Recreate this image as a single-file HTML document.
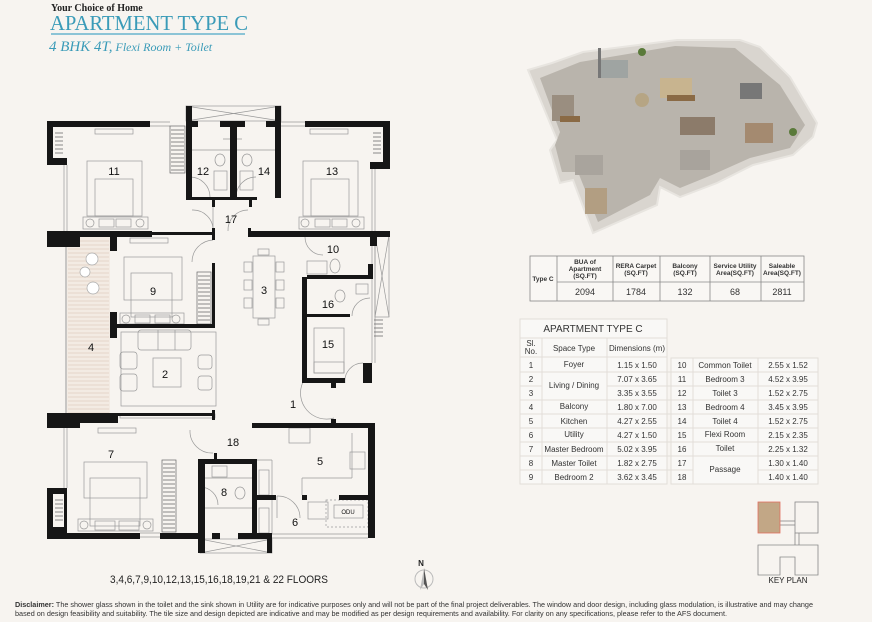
<!DOCTYPE html>
<html><head><meta charset="utf-8"><style>
html,body{margin:0;padding:0;background:#f7f4f0;}
svg{display:block;font-family:"Liberation Sans",sans-serif;}
</style></head><body>
<svg width="872" height="622" viewBox="0 0 872 622" xmlns="http://www.w3.org/2000/svg">
<rect width="872" height="622" fill="#f7f4f0"/>
<!-- Header -->
<text x="51" y="11" font-family="Liberation Serif,serif" font-weight="bold" font-size="10" fill="#222">Your Choice of Home</text>
<text x="50" y="30" font-family="Liberation Serif,serif" font-size="21" fill="#3a9bb8" textLength="198" lengthAdjust="spacingAndGlyphs">APARTMENT TYPE C</text>
<rect x="51" y="33" width="194" height="2" fill="#8cc4d6"/>
<text x="49" y="51" font-family="Liberation Serif,serif" font-style="italic" fill="#3a9bb8"><tspan font-size="15">4 BHK 4T,</tspan><tspan font-size="12"> Flexi Room + Toilet</tspan></text>

<!-- 3D render approximation -->
<polygon points="528,70 552,63 583,52 677,40 740,40 760,47 790,77 817,123 813,137 793,155 753,165 717,183 680,197 660,187 657,205 593,233 573,180 560,183 550,150 557,140" fill="#d9d5cf" stroke="#e8e5e0" stroke-width="2"/>
<polygon points="540,78 580,62 675,46 735,48 780,85 805,125 790,148 750,158 712,175 680,188 660,178 650,195 598,222 578,172 562,172 555,145 560,132" fill="#b9b4ac"/>
<rect x="552" y="95" width="22" height="26" fill="#9a8e80"/>
<rect x="560" y="116" width="20" height="6" fill="#8a6a45"/>
<rect x="600" y="60" width="28" height="18" fill="#9fa4a2"/>
<rect x="660" y="78" width="32" height="20" fill="#c8b48f"/>
<rect x="667" y="95" width="28" height="6" fill="#8a6a45"/>
<rect x="680" y="117" width="35" height="18" fill="#8c7b6a"/>
<rect x="740" y="83" width="22" height="16" fill="#777"/>
<rect x="745" y="123" width="28" height="20" fill="#a48a70"/>
<rect x="680" y="150" width="30" height="20" fill="#a8a39c"/>
<rect x="575" y="155" width="28" height="20" fill="#a9a49d"/>
<rect x="585" y="188" width="22" height="26" fill="#b29e82"/>
<circle cx="642" cy="100" r="7" fill="#b6a584"/>
<circle cx="642" cy="52" r="4" fill="#5a7a3a"/>
<circle cx="793" cy="132" r="4" fill="#5a7a3a"/>
<rect x="598" y="48" width="3" height="30" fill="#777"/>

<!-- Top table -->
<g font-size="6.5" font-weight="bold" fill="#333" text-anchor="middle">
<rect x="530" y="256" width="274" height="45" fill="#f9f7f4" stroke="#888" stroke-width="0.8"/>
<line x1="557" y1="256" x2="557" y2="301" stroke="#888" stroke-width="0.8"/>
<line x1="613" y1="256" x2="613" y2="301" stroke="#888" stroke-width="0.8"/>
<line x1="660" y1="256" x2="660" y2="301" stroke="#888" stroke-width="0.8"/>
<line x1="710" y1="256" x2="710" y2="301" stroke="#888" stroke-width="0.8"/>
<line x1="761" y1="256" x2="761" y2="301" stroke="#888" stroke-width="0.8"/>
<line x1="557" y1="282" x2="804" y2="282" stroke="#888" stroke-width="0.8"/>
<text x="543" y="281">Type C</text>
<text x="585" y="264">BUA of</text><text x="585" y="271">Apartment</text><text x="585" y="278">(SQ.FT)</text>
<text x="636" y="268">RERA Carpet</text><text x="636" y="275">(SQ.FT)</text>
<text x="685" y="268">Balcony</text><text x="685" y="275">(SQ.FT)</text>
<text x="735" y="268">Service Utility</text><text x="735" y="275">Area(SQ.FT)</text>
<text x="782" y="268">Saleable</text><text x="782" y="275">Area(SQ.FT)</text>
<g font-size="9" font-weight="normal">
<text x="585" y="295">2094</text><text x="636" y="295">1784</text><text x="685" y="295">132</text><text x="735" y="295">68</text><text x="782" y="295">2811</text>
</g></g>

<!-- Second table -->
<g stroke="#e2ded8" stroke-width="1" fill="#f9f8f6">
<rect x="520" y="319" width="147" height="165"/>
<rect x="671" y="358" width="147" height="126"/>
</g>
<g stroke="#e2ded8" stroke-width="1">
<line x1="520" y1="338" x2="667" y2="338"/>
<line x1="542" y1="338" x2="542" y2="484"/><line x1="607" y1="338" x2="607" y2="484"/>
<line x1="693" y1="358" x2="693" y2="484"/><line x1="758" y1="358" x2="758" y2="484"/>
<line x1="520" y1="357" x2="667" y2="357"/>
<line x1="520" y1="372" x2="818" y2="372"/>
<line x1="520" y1="386" x2="542" y2="386"/><line x1="607" y1="386" x2="818" y2="386"/>
<line x1="520" y1="400" x2="818" y2="400"/>
<line x1="520" y1="414" x2="818" y2="414"/>
<line x1="520" y1="428" x2="818" y2="428"/>
<line x1="520" y1="442" x2="818" y2="442"/>
<line x1="520" y1="456" x2="818" y2="456"/>
<line x1="520" y1="470" x2="693" y2="470"/><line x1="758" y1="470" x2="818" y2="470"/>
</g>
<g font-size="8" fill="#333" text-anchor="middle">
<text x="593" y="332" font-size="10">APARTMENT TYPE C</text>
<text x="531" y="346">Sl.</text><text x="531" y="354">No.</text>
<text x="574" y="351">Space Type</text><text x="637" y="351">Dimensions (m)</text>
<text x="531" y="368">1</text><text x="574" y="367">Foyer</text><text x="637" y="368">1.15 x 1.50</text>
<text x="531" y="382">2</text><text x="574" y="388">Living / Dining</text><text x="637" y="382">7.07 x 3.65</text>
<text x="531" y="396">3</text><text x="637" y="396">3.35 x 3.55</text>
<text x="531" y="410">4</text><text x="574" y="409">Balcony</text><text x="637" y="410">1.80 x 7.00</text>
<text x="531" y="424">5</text><text x="574" y="424">Kitchen</text><text x="637" y="424">4.27 x 2.55</text>
<text x="531" y="438">6</text><text x="574" y="437">Utility</text><text x="637" y="438">4.27 x 1.50</text>
<text x="531" y="452">7</text><text x="574" y="452">Master Bedroom</text><text x="637" y="452">5.02 x 3.95</text>
<text x="531" y="466">8</text><text x="574" y="466">Master Toilet</text><text x="637" y="466">1.82 x 2.75</text>
<text x="531" y="480">9</text><text x="574" y="480">Bedroom 2</text><text x="637" y="480">3.62 x 3.45</text>
<text x="682" y="368">10</text><text x="725" y="368">Common Toilet</text><text x="788" y="368">2.55 x 1.52</text>
<text x="682" y="382">11</text><text x="725" y="382">Bedroom 3</text><text x="788" y="382">4.52 x 3.95</text>
<text x="682" y="396">12</text><text x="725" y="396">Toilet 3</text><text x="788" y="396">1.52 x 2.75</text>
<text x="682" y="410">13</text><text x="725" y="410">Bedroom 4</text><text x="788" y="410">3.45 x 3.95</text>
<text x="682" y="424">14</text><text x="725" y="424">Toilet 4</text><text x="788" y="424">1.52 x 2.75</text>
<text x="682" y="438">15</text><text x="725" y="437">Flexi Room</text><text x="788" y="438">2.15 x 2.35</text>
<text x="682" y="452">16</text><text x="725" y="451">Toilet</text><text x="788" y="452">2.25 x 1.32</text>
<text x="682" y="466">17</text><text x="725" y="472">Passage</text><text x="788" y="466">1.30 x 1.40</text>
<text x="682" y="480">18</text><text x="788" y="480">1.40 x 1.40</text>
</g>

<!-- Floor plan -->
<g fill="none" stroke="#999" stroke-width="0.7">
<line x1="64" y1="165" x2="64" y2="231"/><line x1="67" y1="165" x2="67" y2="231"/>
<line x1="64" y1="428" x2="64" y2="488"/><line x1="67" y1="428" x2="67" y2="488"/>
<line x1="150" y1="122" x2="170" y2="122"/><line x1="150" y1="126" x2="170" y2="126"/>
<line x1="281" y1="122" x2="305" y2="122"/><line x1="281" y1="126" x2="305" y2="126"/>
<line x1="372" y1="169" x2="372" y2="231"/><line x1="375" y1="169" x2="375" y2="231"/>
<line x1="372" y1="237" x2="372" y2="363"/><line x1="375" y1="237" x2="375" y2="363"/>
<line x1="140" y1="533" x2="160" y2="533"/><line x1="140" y1="537" x2="160" y2="537"/>
<line x1="272" y1="538" x2="368" y2="538"/><line x1="257" y1="534" x2="368" y2="534"/>
<rect x="186" y="106" width="95" height="15"/><line x1="186" y1="106" x2="281" y2="121"/><line x1="186" y1="121" x2="281" y2="106"/>
<rect x="375" y="235" width="14" height="82"/><line x1="375" y1="235" x2="389" y2="317"/><line x1="389" y1="235" x2="375" y2="317"/>
<rect x="200" y="539" width="72" height="14"/><line x1="200" y1="539" x2="272" y2="553"/><line x1="200" y1="553" x2="272" y2="539"/>
<path d="M192 210 A20 20 0 0 1 213 231"/><path d="M213 207 L213 231"/>
<path d="M248 210 A20 20 0 0 0 228 231"/>
<path d="M213 240 A22 22 0 0 0 192 262"/>
<path d="M303 382 A26 26 0 0 0 334 418"/>
<path d="M190 430 A22 22 0 0 0 213 453"/>
<path d="M190 177 A20 20 0 0 1 210 197"/><path d="M256 177 A20 20 0 0 0 236 197"/>
<path d="M305 237 A18 18 0 0 0 323 255"/>
<path d="M352 316 A18 18 0 0 1 370 298"/>
<path d="M345 383 A18 18 0 0 1 363 363"/>
<path d="M200 487 A18 18 0 0 1 218 505"/>
<path d="M277 496 A22 22 0 0 1 300 518"/><line x1="277" y1="496" x2="277" y2="518"/>
<rect x="87" y="161" width="55" height="55"/><rect x="95" y="179" width="38" height="37"/>
<rect x="83" y="217" width="65" height="12"/><rect x="99" y="219" width="15" height="8"/><rect x="116" y="219" width="15" height="8"/>
<circle cx="90" cy="223" r="4"/><circle cx="140" cy="223" r="4"/>
<rect x="95" y="129" width="38" height="5"/>
<rect x="303" y="161" width="55" height="55"/><rect x="311" y="179" width="38" height="37"/>
<rect x="299" y="217" width="65" height="12"/><rect x="315" y="219" width="15" height="8"/><rect x="332" y="219" width="15" height="8"/>
<circle cx="305" cy="223" r="4"/><circle cx="356" cy="223" r="4"/>
<rect x="310" y="129" width="38" height="5"/>
<line x1="192" y1="150" x2="275" y2="150"/>
<rect x="214" y="171" width="13" height="19"/><rect x="240" y="171" width="13" height="19"/>
<ellipse cx="220" cy="160" rx="5" ry="6"/><ellipse cx="247" cy="160" rx="5" ry="6"/>
<line x1="223" y1="139" x2="242" y2="139"/>
<rect x="124" y="257" width="58" height="43"/><rect x="131" y="273" width="41" height="44"/>
<rect x="120" y="313" width="64" height="11"/><rect x="135" y="315" width="15" height="8"/><rect x="155" y="315" width="15" height="8"/>
<circle cx="126" cy="319" r="4"/><circle cx="176" cy="319" r="4"/>
<rect x="130" y="238" width="38" height="5"/>
<rect x="121" y="332" width="95" height="74"/>
<rect x="138" y="330" width="53" height="20" rx="3"/><line x1="158" y1="330" x2="158" y2="350"/><line x1="175" y1="330" x2="175" y2="350"/>
<rect x="120" y="352" width="17" height="17" rx="3"/><rect x="120" y="374" width="17" height="17" rx="3"/>
<rect x="153" y="358" width="28" height="29"/>
<rect x="198" y="355" width="14" height="14" rx="3"/><rect x="198" y="376" width="14" height="14" rx="3"/>
<rect x="120" y="414" width="95" height="4"/>
<rect x="253" y="256" width="22" height="62"/>
<rect x="244" y="262" width="8" height="10"/><rect x="244" y="280" width="8" height="10"/><rect x="244" y="298" width="8" height="10"/>
<rect x="276" y="262" width="8" height="10"/><rect x="276" y="280" width="8" height="10"/><rect x="276" y="298" width="8" height="10"/>
<rect x="258" y="249" width="11" height="6"/><rect x="258" y="319" width="11" height="6"/>
<rect x="307" y="261" width="20" height="13"/><ellipse cx="335" cy="266" rx="5" ry="7"/>
<ellipse cx="340" cy="296" rx="5" ry="6"/><rect x="356" y="284" width="12" height="10"/>
<rect x="314" y="328" width="30" height="45"/><rect x="314" y="362" width="30" height="11"/>
<rect x="84" y="462" width="63" height="36"/><rect x="90" y="478" width="50" height="48"/>
<rect x="78" y="519" width="75" height="12"/><rect x="95" y="521" width="20" height="9"/><rect x="119" y="521" width="20" height="9"/>
<circle cx="84" cy="525" r="4"/><circle cx="147" cy="525" r="4"/>
<rect x="98" y="428" width="38" height="5"/>
<rect x="212" y="466" width="15" height="11"/><line x1="205" y1="508" x2="252" y2="508"/><line x1="205" y1="478" x2="252" y2="478"/>
<ellipse cx="240" cy="493" rx="5" ry="6"/>
<rect x="289" y="428" width="21" height="15"/>
<rect x="259" y="470" width="10" height="25"/><rect x="259" y="508" width="10" height="25"/>
<line x1="252" y1="460" x2="272" y2="460"/><line x1="272" y1="460" x2="272" y2="534"/>
<line x1="302" y1="478" x2="352" y2="478"/><line x1="302" y1="478" x2="302" y2="495"/><line x1="352" y1="478" x2="352" y2="433"/>
<rect x="350" y="452" width="15" height="17"/>
<rect x="308" y="502" width="20" height="17"/>
<rect x="334" y="505" width="29" height="13"/>
<rect x="326" y="500" width="42" height="27" stroke-dasharray="2,2"/>
</g>
<g stroke="#666" stroke-width="0.7">
<rect x="170" y="126" width="15" height="47" fill="none"/>
<path d="M171 130h13M171 134h13M171 138h13M171 142h13M171 146h13M171 150h13M171 154h13M171 158h13M171 162h13M171 166h13M171 170h13"/>
<rect x="197" y="272" width="14" height="52" fill="none"/>
<path d="M198 276h12M198 280h12M198 284h12M198 288h12M198 292h12M198 296h12M198 300h12M198 304h12M198 308h12M198 312h12M198 316h12M198 320h12"/>
<rect x="162" y="460" width="14" height="72" fill="none"/>
<path d="M163 464h12M163 468h12M163 472h12M163 476h12M163 480h12M163 484h12M163 488h12M163 492h12M163 496h12M163 500h12M163 504h12M163 508h12M163 512h12M163 516h12M163 520h12M163 524h12M163 528h12"/>
<path d="M55 133h8M55 137h8M55 141h8M55 145h8M55 149h8M55 153h8"/>
<path d="M373 133h8M373 137h8M373 141h8M373 145h8M373 149h8M373 153h8"/>
<path d="M374 320h9M374 324h9M374 328h9M374 332h9M374 336h9"/>
<path d="M55 500h8M55 504h8M55 508h8M55 512h8M55 516h8M55 520h8"/>
</g>
<rect x="67" y="237" width="43" height="183" fill="#f3ebe3"/>
<g stroke="#d9c2b0" stroke-width="0.6">
<path d="M68 241h41M68 245h41M68 249h41M68 253h41M68 257h41M68 261h41M68 265h41M68 269h41M68 273h41M68 277h41M68 281h41M68 285h41M68 289h41M68 293h41M68 297h41M68 301h41M68 305h41M68 309h41M68 313h41M68 317h41M68 321h41M68 325h41M68 329h41M68 333h41M68 337h41M68 341h41M68 345h41M68 349h41M68 353h41M68 357h41M68 361h41M68 365h41M68 369h41M68 373h41M68 377h41M68 381h41M68 385h41M68 389h41M68 393h41M68 397h41M68 401h41M68 405h41M68 409h41M68 413h41M68 417h41"/>
</g>
<g fill="#fff" stroke="#aaa" stroke-width="0.7"><circle cx="92" cy="259" r="6"/><circle cx="85" cy="272" r="5"/><circle cx="93" cy="288" r="6"/></g>
<line x1="66" y1="237" x2="66" y2="420" stroke="#999" stroke-width="1"/>
<g fill="#161616">
<rect x="47" y="121" width="103" height="6"/><rect x="47" y="121" width="6" height="44"/><rect x="47" y="158" width="20" height="7"/>
<rect x="186" y="106" width="6" height="94"/><rect x="275" y="106" width="6" height="92"/>
<rect x="192" y="121" width="6" height="6"/><rect x="220" y="121" width="25" height="6"/><rect x="266" y="121" width="9" height="6"/>
<rect x="230" y="121" width="7" height="77"/><rect x="188" y="197" width="69" height="3"/>
<rect x="212" y="197" width="3" height="10"/><rect x="249" y="197" width="3" height="10"/>
<rect x="305" y="121" width="85" height="6"/><rect x="383" y="121" width="7" height="48"/><rect x="370" y="162" width="20" height="7"/>
<rect x="47" y="231" width="33" height="16"/><rect x="80" y="231" width="72" height="6"/><rect x="110" y="231" width="7" height="20"/><rect x="152" y="232" width="61" height="3"/>
<rect x="212" y="228" width="3" height="12"/><rect x="248" y="228" width="3" height="9"/>
<rect x="248" y="231" width="142" height="6"/><rect x="370" y="231" width="7" height="15"/>
<rect x="212" y="263" width="3" height="64"/><rect x="115" y="324" width="100" height="4"/>
<rect x="110" y="312" width="7" height="26"/>
<rect x="302" y="277" width="5" height="106"/><rect x="307" y="275" width="66" height="4"/><rect x="368" y="264" width="5" height="14"/>
<rect x="305" y="314" width="45" height="3"/>
<rect x="302" y="378" width="43" height="5"/><rect x="331" y="383" width="5" height="5"/><rect x="363" y="363" width="9" height="20"/>
<rect x="47" y="413" width="33" height="15"/><rect x="80" y="413" width="38" height="10"/><rect x="118" y="413" width="97" height="3"/><rect x="212" y="410" width="3" height="10"/>
<rect x="252" y="423" width="123" height="5"/><rect x="331" y="419" width="5" height="5"/><rect x="368" y="423" width="7" height="115"/>
<rect x="47" y="488" width="6" height="51"/><rect x="47" y="488" width="20" height="6"/><rect x="47" y="527" width="20" height="12"/><rect x="64" y="488" width="3" height="51"/>
<rect x="67" y="533" width="73" height="6"/>
<rect x="160" y="533" width="40" height="6"/><rect x="198" y="459" width="7" height="94"/><rect x="198" y="459" width="59" height="5"/>
<rect x="252" y="459" width="5" height="80"/><rect x="214" y="453" width="3" height="6"/><rect x="238" y="533" width="34" height="6"/><rect x="267" y="533" width="5" height="20"/>
<rect x="256" y="495" width="20" height="5"/><rect x="302" y="495" width="5" height="5"/><rect x="339" y="495" width="29" height="5"/>
<rect x="212" y="533" width="8" height="6"/>
</g>
<g font-size="11" fill="#111" text-anchor="middle">
<text x="114" y="175">11</text><text x="203" y="175">12</text><text x="264" y="175">14</text><text x="332" y="175">13</text>
<text x="231" y="223">17</text><text x="333" y="253">10</text><text x="153" y="295">9</text><text x="264" y="294">3</text>
<text x="328" y="308">16</text><text x="91" y="351">4</text><text x="328" y="348">15</text><text x="165" y="378">2</text>
<text x="293" y="408">1</text><text x="233" y="446">18</text><text x="111" y="458">7</text><text x="320" y="465">5</text>
<text x="224" y="496">8</text><text x="295" y="526">6</text>
<text x="348" y="514" font-size="6">ODU</text>
</g>

<text x="110" y="583" font-size="11" fill="#222" textLength="218" lengthAdjust="spacingAndGlyphs">3,4,6,7,9,10,12,13,15,16,18,19,21 &amp; 22 FLOORS</text>
<text x="421" y="566" font-size="8" font-weight="bold" fill="#222" text-anchor="middle">N</text>
<circle cx="424" cy="579" r="9" fill="none" stroke="#bbb" stroke-width="1"/>
<polygon points="424,568 420,590 424,584" fill="#bbb"/><polygon points="424,568 428,590 424,584" fill="#555"/>
<!-- key plan -->
<g fill="none" stroke="#888" stroke-width="0.8">
<rect x="795" y="502" width="23" height="31"/>
<line x1="780" y1="521" x2="795" y2="521"/><line x1="780" y1="525" x2="795" y2="525"/>
<line x1="795" y1="533" x2="795" y2="545"/><line x1="799" y1="533" x2="799" y2="545"/>
<polygon points="758,545 818,545 818,575 795,575 795,557 780,557 780,575 758,575"/>
</g>
<rect x="758" y="502" width="22" height="31" fill="#c2a786" stroke="#e07060" stroke-width="0.8"/>
<text x="788" y="583" font-size="8" fill="#222" text-anchor="middle">KEY PLAN</text>
<g font-size="7.5" fill="#333">
<text x="15" y="607" textLength="798" lengthAdjust="spacingAndGlyphs"><tspan font-weight="bold">Disclaimer:</tspan> The shower glass shown in the toilet and the sink shown in Utility are for indicative purposes only and will not be part of the final project deliverables. The window and door design, including glass modulation, is illustrative and may change</text>
<text x="15" y="616" textLength="712" lengthAdjust="spacingAndGlyphs">based on design feasibility and suitability. The tile size and design depicted are indicative and may be modified as per design requirements and availability. For clarity on any specifications, please refer to the AFS document.</text>
</g>
</svg>
</body></html>
